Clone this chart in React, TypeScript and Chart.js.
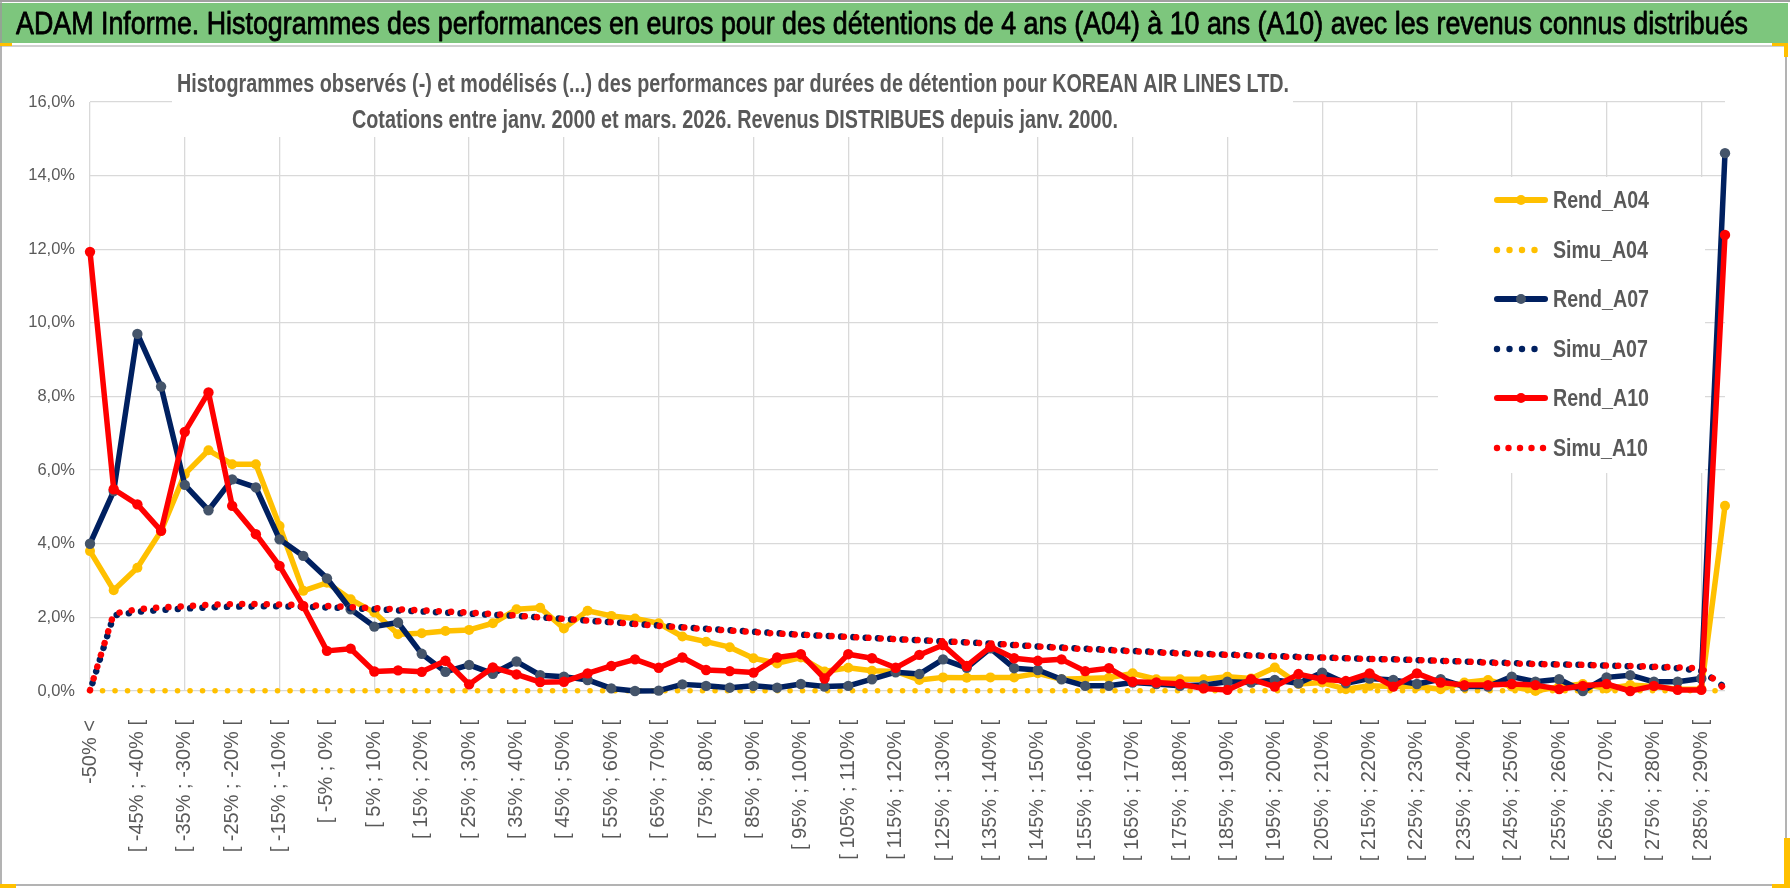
import React, { useEffect, useRef } from 'react';
import { Chart, registerables } from 'chart.js';

Chart.register(...registerables);

// ---------------- DATA ----------------
const CATEGORIES: string[] = [
  '-50% <',
  '[ -50% ; -45% [', '[ -45% ; -40% [', '[ -40% ; -35% [', '[ -35% ; -30% [',
  '[ -30% ; -25% [', '[ -25% ; -20% [', '[ -20% ; -15% [', '[ -15% ; -10% [',
  '[ -10% ; -5% [', '[ -5% ; 0% [', '[ 0% ; 5% [', '[ 5% ; 10% [',
  '[ 10% ; 15% [', '[ 15% ; 20% [', '[ 20% ; 25% [', '[ 25% ; 30% [',
  '[ 30% ; 35% [', '[ 35% ; 40% [', '[ 40% ; 45% [', '[ 45% ; 50% [',
  '[ 50% ; 55% [', '[ 55% ; 60% [', '[ 60% ; 65% [', '[ 65% ; 70% [',
  '[ 70% ; 75% [', '[ 75% ; 80% [', '[ 80% ; 85% [', '[ 85% ; 90% [',
  '[ 90% ; 95% [', '[ 95% ; 100% [', '[ 100% ; 105% [', '[ 105% ; 110% [',
  '[ 110% ; 115% [', '[ 115% ; 120% [', '[ 120% ; 125% [', '[ 125% ; 130% [',
  '[ 130% ; 135% [', '[ 135% ; 140% [', '[ 140% ; 145% [', '[ 145% ; 150% [',
  '[ 150% ; 155% [', '[ 155% ; 160% [', '[ 160% ; 165% [', '[ 165% ; 170% [',
  '[ 170% ; 175% [', '[ 175% ; 180% [', '[ 180% ; 185% [', '[ 185% ; 190% [',
  '[ 190% ; 195% [', '[ 195% ; 200% [', '[ 200% ; 205% [', '[ 205% ; 210% [',
  '[ 210% ; 215% [', '[ 215% ; 220% [', '[ 220% ; 225% [', '[ 225% ; 230% [',
  '[ 230% ; 235% [', '[ 235% ; 240% [', '[ 240% ; 245% [', '[ 245% ; 250% [',
  '[ 250% ; 255% [', '[ 255% ; 260% [', '[ 260% ; 265% [', '[ 265% ; 270% [',
  '[ 270% ; 275% [', '[ 275% ; 280% [', '[ 280% ; 285% [', '[ 285% ; 290% [',
  '> 290%',
];

const REND_A04: number[] = [
  3.80, 2.74, 3.35, 4.35, 5.89, 6.54, 6.16, 6.16, 4.48, 2.72,
  2.94, 2.49, 2.13, 1.54, 1.57, 1.63, 1.66, 1.84, 2.22, 2.26,
  1.70, 2.18, 2.04, 1.97, 1.84, 1.48, 1.34, 1.19, 0.89, 0.75,
  0.91, 0.53, 0.63, 0.55, 0.53, 0.30, 0.37, 0.36, 0.37, 0.37,
  0.48, 0.32, 0.34, 0.36, 0.48, 0.32, 0.32, 0.32, 0.39, 0.34,
  0.64, 0.19, 0.23, 0.05, 0.14, 0.12, 0.12, 0.05, 0.23, 0.30,
  0.12, 0.00, 0.12, 0.19, 0.07, 0.16, 0.12, 0.05, 0.05, 5.03,
];

const SIMU_A04: number[] = [
  0.01, 0.01, 0.01, 0.01, 0.01, 0.01, 0.01, 0.01, 0.01, 0.01,
  0.01, 0.01, 0.01, 0.01, 0.01, 0.01, 0.01, 0.01, 0.01, 0.01,
  0.01, 0.01, 0.01, 0.01, 0.01, 0.01, 0.01, 0.01, 0.01, 0.01,
  0.01, 0.01, 0.01, 0.01, 0.01, 0.01, 0.01, 0.01, 0.01, 0.01,
  0.01, 0.01, 0.01, 0.01, 0.01, 0.01, 0.01, 0.01, 0.01, 0.01,
  0.01, 0.01, 0.01, 0.01, 0.01, 0.01, 0.01, 0.01, 0.01, 0.01,
  0.01, 0.01, 0.01, 0.01, 0.01, 0.01, 0.01, 0.01, 0.01, 0.01,
];

const REND_A07: number[] = [
  4.00, 5.43, 9.70, 8.27, 5.60, 4.91, 5.75, 5.53, 4.12, 3.67,
  3.06, 2.22, 1.75, 1.86, 1.01, 0.52, 0.71, 0.47, 0.80, 0.43,
  0.39, 0.30, 0.07, 0.00, 0.01, 0.18, 0.14, 0.09, 0.14, 0.09,
  0.19, 0.12, 0.14, 0.32, 0.51, 0.46, 0.86, 0.63, 1.16, 0.62,
  0.57, 0.32, 0.14, 0.14, 0.23, 0.19, 0.14, 0.16, 0.25, 0.23,
  0.30, 0.21, 0.50, 0.21, 0.34, 0.30, 0.19, 0.32, 0.12, 0.12,
  0.39, 0.25, 0.32, 0.00, 0.37, 0.43, 0.25, 0.25, 0.34, 14.61,
];

const SIMU_A07: number[] = [
  0.00, 2.05, 2.15, 2.20, 2.24, 2.27, 2.29, 2.30, 2.30, 2.29,
  2.27, 2.25, 2.22, 2.19, 2.16, 2.13, 2.10, 2.07, 2.04, 2.00,
  1.96, 1.91, 1.87, 1.82, 1.78, 1.73, 1.69, 1.65, 1.61, 1.57,
  1.53, 1.50, 1.47, 1.44, 1.41, 1.38, 1.35, 1.32, 1.29, 1.25,
  1.21, 1.18, 1.15, 1.12, 1.09, 1.06, 1.03, 1.01, 0.99, 0.97,
  0.95, 0.93, 0.91, 0.89, 0.87, 0.86, 0.84, 0.82, 0.80, 0.78,
  0.76, 0.74, 0.72, 0.71, 0.69, 0.67, 0.65, 0.62, 0.55, 0.10,
];

const REND_A10: number[] = [
  11.93, 5.48, 5.07, 4.35, 7.04, 8.11, 5.03, 4.26, 3.40, 2.31,
  1.09, 1.15, 0.53, 0.56, 0.52, 0.82, 0.18, 0.64, 0.45, 0.24,
  0.25, 0.48, 0.68, 0.86, 0.63, 0.91, 0.57, 0.54, 0.50, 0.91,
  1.00, 0.34, 1.00, 0.89, 0.63, 0.98, 1.25, 0.68, 1.20, 0.89,
  0.82, 0.86, 0.54, 0.62, 0.25, 0.23, 0.19, 0.07, 0.03, 0.32,
  0.12, 0.46, 0.32, 0.27, 0.48, 0.12, 0.48, 0.23, 0.16, 0.16,
  0.19, 0.16, 0.05, 0.14, 0.19, 0.00, 0.14, 0.03, 0.03, 12.39,
];

const SIMU_A10: number[] = [
  0.02, 2.10, 2.22, 2.27, 2.30, 2.34, 2.36, 2.36, 2.35, 2.33,
  2.31, 2.28, 2.25, 2.22, 2.19, 2.16, 2.13, 2.09, 2.05, 2.00,
  1.96, 1.91, 1.87, 1.82, 1.77, 1.73, 1.68, 1.64, 1.60, 1.56,
  1.53, 1.50, 1.47, 1.44, 1.41, 1.38, 1.35, 1.32, 1.29, 1.25,
  1.21, 1.17, 1.14, 1.11, 1.08, 1.05, 1.02, 1.00, 0.98, 0.96,
  0.94, 0.92, 0.91, 0.89, 0.87, 0.86, 0.84, 0.82, 0.80, 0.77,
  0.75, 0.73, 0.72, 0.71, 0.69, 0.68, 0.66, 0.64, 0.62, 0.05,
];

const Y_TICKS: number[] = [0, 2, 4, 6, 8, 10, 12, 14, 16];

const TITLE =
  'ADAM Informe. Histogrammes des performances en euros pour des détentions de 4 ans (A04) à 10 ans (A10) avec les revenus connus distribués';
const SUBTITLE_1 =
  'Histogrammes observés (-) et modélisés (...) des performances par durées de détention pour KOREAN AIR LINES LTD.';
const SUBTITLE_2 =
  'Cotations entre janv. 2000 et mars. 2026. Revenus DISTRIBUES depuis janv. 2000.';

// ---------------- STYLE / LAYOUT ----------------
const W = 1790;
const H = 888;
const NARROW = '"Liberation Sans Narrow", "Liberation Sans", Arial, sans-serif';
const SANS = '"Liberation Sans", Arial, sans-serif';
const GRID = '#D9D9D9';
const TEXT_GRAY = '#595959';
const YELLOW = '#FFC000';
const NAVY = '#002060';
const NAVY_MARK = '#44546A';
const RED = '#FF0000';

function fitText(
  ctx: CanvasRenderingContext2D,
  text: string,
  x: number,
  y: number,
  width: number,
  font: string,
  color: string,
  stroke = 0
) {
  ctx.save();
  ctx.font = font;
  ctx.fillStyle = color;
  ctx.textAlign = 'left';
  ctx.textBaseline = 'alphabetic';
  const m = ctx.measureText(text).width;
  const s = width / m;
  ctx.translate(x, y);
  ctx.scale(s, 1);
  ctx.fillText(text, 0, 0);
  if (stroke > 0) {
    ctx.strokeStyle = color;
    ctx.lineWidth = stroke;
    ctx.lineJoin = 'round';
    ctx.strokeText(text, 0, 0);
  }
  ctx.restore();
}

const framePlugin = {
  id: 'frameAndTitles',
  beforeDraw(chart: any) {
    const ctx: CanvasRenderingContext2D = chart.ctx;
    ctx.save();
    ctx.fillStyle = '#FFFFFF';
    ctx.fillRect(0, 0, W, H);
    ctx.restore();
  },
  beforeDatasetsDraw(chart: any) {
    const ctx: CanvasRenderingContext2D = chart.ctx;
    ctx.save();
    // white box under the subtitle (hides grid lines like the original)
    ctx.fillStyle = '#FFFFFF';
    ctx.fillRect(172, 55, 1293 - 172, 137 - 55);
    ctx.restore();
    const f = `bold 25px ${NARROW}`;
    fitText(ctx, SUBTITLE_1, 177, 92, 1112, f, TEXT_GRAY);
    fitText(ctx, SUBTITLE_2, 352, 128, 766, f, TEXT_GRAY);
  },
  afterDraw(chart: any) {
    const ctx: CanvasRenderingContext2D = chart.ctx;
    ctx.save();
    // top grey line
    ctx.fillStyle = '#A0A0A0';
    ctx.fillRect(0, 0, W, 2);
    // green title bar
    ctx.fillStyle = '#7DC67D';
    ctx.fillRect(0, 3, 1788, 40);
    // light line under the bar
    ctx.fillStyle = '#D0D0D0';
    ctx.fillRect(0, 45, 1786, 2);
    // chart frame
    ctx.strokeStyle = '#9A9A9A';
    ctx.lineWidth = 1.5;
    ctx.beginPath();
    ctx.moveTo(1, 2);
    ctx.lineTo(1, 885);
    ctx.lineTo(1786, 885);
    ctx.lineTo(1786, 47);
    ctx.stroke();
    // yellow selection accents
    ctx.fillStyle = YELLOW;
    ctx.fillRect(0, 43, 12, 3);
    ctx.fillRect(1772, 43, 16, 3);
    ctx.fillRect(1784, 43, 4, 14);
    ctx.fillRect(0, 884, 16, 4);
    ctx.fillRect(1784, 838, 6, 50);
    ctx.fillRect(1772, 884, 18, 4);
    ctx.restore();
    fitText(ctx, TITLE, 16, 34, 1732, `32px ${NARROW}`, '#000000', 0.8);
  },
};

const legendPlugin = {
  id: 'customLegend',
  afterDatasetsDraw(chart: any) {
    const ctx: CanvasRenderingContext2D = chart.ctx;
    const x0 = 1438, x1 = 1705, y0 = 177, y1 = 473;
    ctx.save();
    ctx.fillStyle = '#FFFFFF';
    ctx.fillRect(x0, y0, x1 - x0, y1 - y0);
    const rowY = [200, 250, 299, 349, 398, 448];
    const lx0 = 1495, lx1 = 1547, tx = 1553;
    ctx.font = `bold 24px ${NARROW}`;
    const scale = 96 / ctx.measureText('Rend_A04').width;
    chart.data.datasets.forEach((ds: any, i: number) => {
      const y = rowY[i];
      const dotted = !!ds.borderDash;
      if (!dotted) {
        ctx.strokeStyle = ds.borderColor;
        ctx.lineWidth = 6;
        ctx.lineCap = 'round';
        ctx.beginPath();
        ctx.moveTo(lx0 + 2, y);
        ctx.lineTo(lx1 - 2, y);
        ctx.stroke();
        ctx.fillStyle = ds.pointBackgroundColor;
        ctx.beginPath();
        ctx.arc((lx0 + lx1) / 2, y, 5, 0, Math.PI * 2);
        ctx.fill();
      } else {
        const n = ds.label === 'Simu_A10' ? 5 : 4;
        const step = ds.label === 'Simu_A10' ? 11.5 : 12.5;
        ctx.fillStyle = ds.borderColor;
        for (let k = 0; k < n; k++) {
          ctx.beginPath();
          ctx.arc(lx0 + 2 + k * step, y, 3.2, 0, Math.PI * 2);
          ctx.fill();
        }
      }
      ctx.save();
      ctx.fillStyle = TEXT_GRAY;
      ctx.textBaseline = 'middle';
      ctx.textAlign = 'left';
      ctx.translate(tx, y + 1);
      ctx.scale(scale, 1);
      ctx.fillText(ds.label, 0, 0);
      ctx.restore();
    });
    ctx.restore();
  },
};

export default function App() {
  const canvasRef = useRef<HTMLCanvasElement | null>(null);

  useEffect(() => {
    document.body.style.margin = '0';
    const canvas = canvasRef.current;
    if (!canvas) return;
    const chart = new Chart(canvas, {
      type: 'line',
      data: {
        labels: CATEGORIES,
        datasets: [
          {
            label: 'Rend_A04', data: REND_A04, borderColor: YELLOW, backgroundColor: YELLOW,
            pointBackgroundColor: YELLOW, pointBorderColor: YELLOW, borderWidth: 5.5,
            pointRadius: 5, pointBorderWidth: 0, tension: 0, fill: false, order: 6,
            borderJoinStyle: 'round', clip: 8,
          },
          {
            label: 'Simu_A04', data: SIMU_A04, borderColor: YELLOW, backgroundColor: YELLOW,
            borderWidth: 5.5, borderDash: [0.1, 12.4], borderCapStyle: 'round',
            pointRadius: 0, tension: 0, fill: false, order: 5, clip: 8,
          },
          {
            label: 'Rend_A07', data: REND_A07, borderColor: NAVY, backgroundColor: NAVY,
            pointBackgroundColor: NAVY_MARK, pointBorderColor: NAVY_MARK, borderWidth: 5.5,
            pointRadius: 5.2, pointBorderWidth: 0, tension: 0, fill: false, order: 4,
            borderJoinStyle: 'round', clip: 8,
          },
          {
            label: 'Simu_A07', data: SIMU_A07, borderColor: NAVY, backgroundColor: NAVY,
            borderWidth: 6.5, borderDash: [0.1, 12.2], borderDashOffset: 4, borderCapStyle: 'round',
            pointRadius: 0, tension: 0, fill: false, order: 3, clip: 8,
          },
          {
            label: 'Rend_A10', data: REND_A10, borderColor: RED, backgroundColor: RED,
            pointBackgroundColor: RED, pointBorderColor: RED, borderWidth: 5.5,
            pointRadius: 5.2, pointBorderWidth: 0, tension: 0, fill: false, order: 2,
            borderJoinStyle: 'round', clip: 8,
          },
          {
            label: 'Simu_A10', data: SIMU_A10, borderColor: RED, backgroundColor: RED,
            borderWidth: 6.5, borderDash: [0.1, 12.2], borderCapStyle: 'round',
            pointRadius: 0, tension: 0, fill: false, order: 1, clip: 8,
          },
        ],
      },
      options: {
        responsive: false,
        animation: false,
        devicePixelRatio: 1,
        layout: { padding: { top: 102, left: 0, right: W - 1725, bottom: 0 } },
        plugins: {
          legend: { display: false },
          title: { display: false },
          tooltip: { enabled: false },
        },
        scales: {
          x: {
            type: 'category',
            offset: false,
            border: { display: false },
            grid: {
              color: (c: any) => (c.index % 4 === 0 ? GRID : 'rgba(0,0,0,0)'),
              lineWidth: 1.3,
              drawTicks: false,
            },
            ticks: {
              autoSkip: false,
              maxRotation: 90,
              minRotation: 90,
              padding: 29,
              color: TEXT_GRAY,
              font: { family: SANS, size: 20 },
              callback: (_v: any, i: number) => (i % 2 === 0 ? CATEGORIES[i] : ''),
            },
            afterFit: (s: any) => {
              s.height = H - 691;
            },
          },
          y: {
            min: 0,
            max: 16,
            border: { display: false },
            grid: { color: GRID, lineWidth: 1.3, drawTicks: false },
            afterBuildTicks: (s: any) => {
              s.ticks = Y_TICKS.map((v) => ({ value: v }));
            },
            ticks: {
              padding: 15,
              color: TEXT_GRAY,
              font: { family: NARROW, size: 16.5 },
              callback: (v: any) => Number(v).toFixed(1).replace('.', ',') + '%',
            },
            afterFit: (s: any) => {
              s.width = 90;
            },
          },
        },
      } as any,
      plugins: [framePlugin, legendPlugin],
    });
    return () => chart.destroy();
  }, []);

  return (
    <div style={{ width: W, height: H, position: 'relative' }}>
      <canvas
        ref={canvasRef}
        width={W}
        height={H}
        style={{ display: 'block', width: `${W}px`, height: `${H}px` }}
      />
    </div>
  );
}
